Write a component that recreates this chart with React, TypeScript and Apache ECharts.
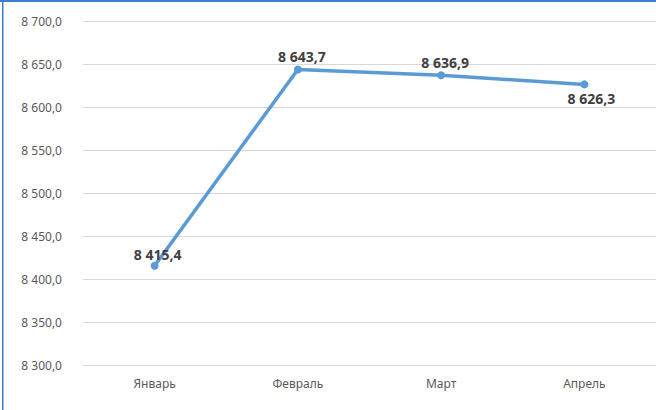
import React, { useEffect, useRef } from "react";
import * as echarts from "echarts";

const categories = ["Январь", "Февраль", "Март", "Апрель"];
const values = [8415.4, 8643.7, 8636.9, 8626.3];
const labelPositions = ["top", "top", "top", "bottom"];
const yMin = 8300;
const yMax = 8700;
const yStep = 50;

const fmt = (v: number) => {
  const s = v.toFixed(1);
  const [i, d] = s.split(".");
  const ip = i.replace(/\B(?=(\d{3})+(?!\d))/g, " ");
  return ip + "," + d;
};

export default function App() {
  const ref = useRef<HTMLDivElement>(null);
  useEffect(() => {
    document.body.style.margin = "0";
    const chart = echarts.init(ref.current!, null, { renderer: "svg" });
    chart.setOption({
      animation: false,
      backgroundColor: "#ffffff",
      textStyle: { fontFamily: "Noto Sans" },
      graphic: [
        { type: "rect", shape: { x: 0, y: 0, width: 656, height: 2 }, style: { fill: "#3b7dc9" }, z: 100 },
        { type: "rect", shape: { x: 2, y: 0, width: 1.5, height: 410 }, style: { fill: "#3b7dc9" }, z: 100 },
      ],
      grid: { left: 83, top: 21, width: 580, height: 344 },
      xAxis: {
        type: "category",
        data: categories,
        axisLine: { show: true, lineStyle: { color: "#dcd6d6", width: 1 } },
        axisTick: { show: false },
        axisLabel: { color: "#595959", fontSize: 12, margin: 12, fontFamily: "Noto Sans" },
      },
      yAxis: {
        type: "value",
        min: yMin,
        max: yMax,
        interval: yStep,
        axisLine: { show: false },
        axisTick: { show: false },
        splitLine: { lineStyle: { color: "#dcd6d6", width: 1 } },
        axisLabel: {
          color: "#595959",
          fontSize: 12,
          margin: 21,
          fontFamily: "Noto Sans",
          formatter: (v: number) => fmt(v),
        },
      },
      series: [
        {
          type: "line",
          data: values.map((v, i) => ({
            value: v,
            label: {
              position: labelPositions[i],
              offset: i === 0 ? [3, 5] : i === 3 ? [7, -2] : [4, 3],
            },
          })),
          lineStyle: { color: "#5b9bd5", width: 3.5 },
          itemStyle: { color: "#5b9bd5" },
          symbol: "circle",
          symbolSize: 8,
          label: {
            show: true,
            color: "#404040",
            fontWeight: "bold",
            fontSize: 14,
            fontFamily: "Noto Sans",
            formatter: (p: any) => fmt(p.value),
          },
        },
      ],
    });
    return () => chart.dispose();
  }, []);
  return <div ref={ref} style={{ position: "fixed", left: 0, top: 0, width: 656, height: 410 }} />;
}
